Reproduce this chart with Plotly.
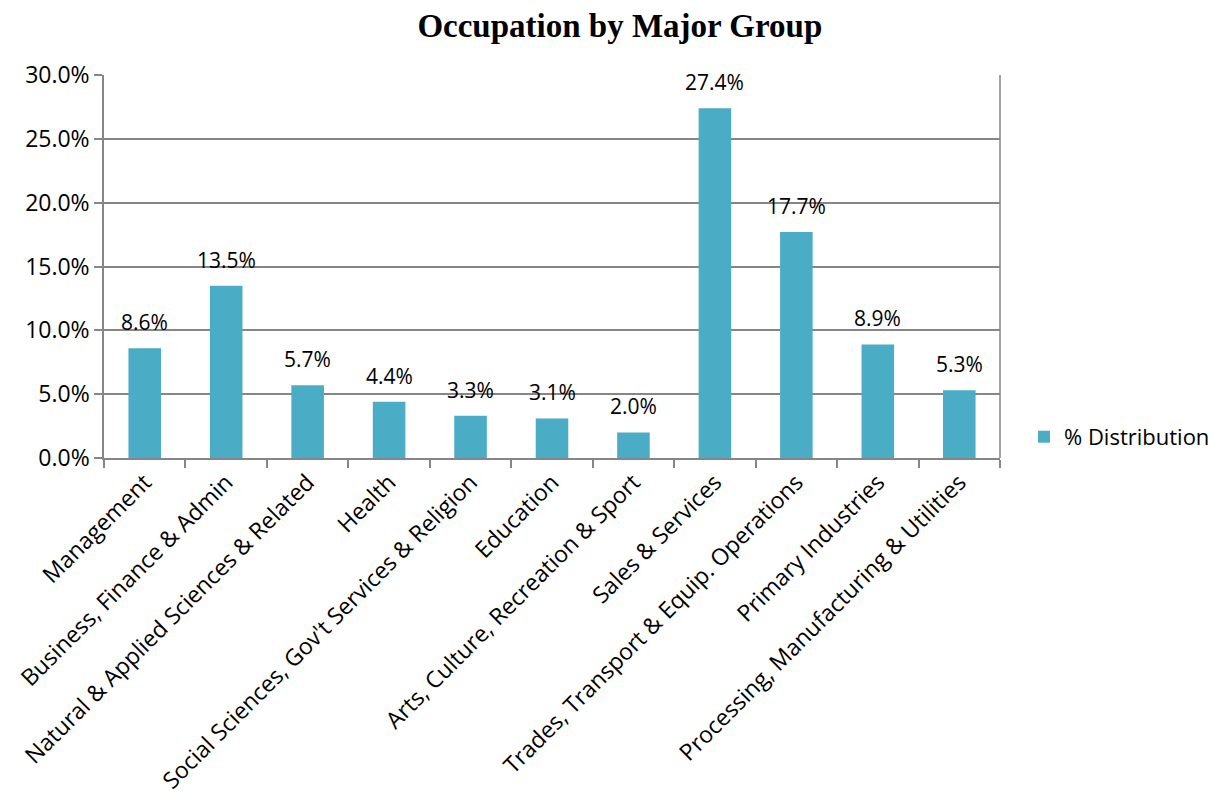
import plotly.graph_objects as go

categories = [
    "Management",
    "Business, Finance & Admin",
    "Natural & Applied Sciences & Related",
    "Health",
    "Social Sciences, Gov't Services & Religion",
    "Education",
    "Arts, Culture, Recreation & Sport",
    "Sales & Services",
    "Trades, Transport & Equip. Operations",
    "Primary Industries",
    "Processing, Manufacturing & Utilities",
]
values = [0.086, 0.135, 0.057, 0.044, 0.033, 0.031, 0.020, 0.274, 0.177, 0.089, 0.053]
series_name = "% Distribution"
y_ticks = [0, 0.05, 0.10, 0.15, 0.20, 0.25, 0.30]

BAR = "#4BACC6"
GRID = "#868686"
FONT = "Open Sans"

fig = go.Figure()
fig.add_trace(go.Bar(
    x=categories, y=values, name=series_name,
    marker=dict(color=BAR, line=dict(color="#ffffff", width=0)),
    showlegend=True,
))

for c, v in zip(categories, values):
    fig.add_annotation(x=c, y=v, text=f"{v*100:.1f}%", showarrow=False,
                       yanchor="middle", yshift=26,
                       font=dict(family=FONT, size=21, color="#000000"))

fig.update_layout(
    width=1214, height=798,
    paper_bgcolor="white", plot_bgcolor="white",
    margin=dict(l=96, r=222, t=67, b=348, autoexpand=False),
    bargap=0.6,
    title=dict(text="<b>Occupation by Major Group</b>", x=0.504, xanchor="center",
               xref="container", y=0.9787, yanchor="middle",
               font=dict(family="Liberation Serif", size=33, color="#000000")),
    font=dict(family=FONT, size=23, color="#000000"),
    legend=dict(x=0.8369, xanchor="left", xref="container",
                y=0.055, yanchor="middle",
                font=dict(family=FONT, size=22, color="#000000"),
                itemwidth=30),
    xaxis=dict(
        type="category", tickangle=-45, tickson="boundaries",
        ticks="outside", ticklen=8, tickcolor=GRID, tickwidth=1.5,
        showline=True, linecolor=GRID, linewidth=1.5,
        showgrid=False, tickfont=dict(family=FONT, size=23),
        automargin=False,
    ),
    yaxis=dict(
        range=[0, 0.30], tickvals=y_ticks, tickformat=".1%",
        ticks="outside", ticklen=8, tickcolor=GRID, tickwidth=1.5,
        showline=True, linecolor=GRID, linewidth=1.5,
        showgrid=True, gridcolor=GRID, gridwidth=1.5,
        zeroline=False, tickfont=dict(family=FONT, size=23),
        mirror=False, automargin=False,
    ),
)
fig.add_shape(type="line", xref="paper", yref="y", x0=1, x1=1, y0=0, y1=0.30,
              line=dict(color=GRID, width=1.5))

fig.write_html("out.html")
